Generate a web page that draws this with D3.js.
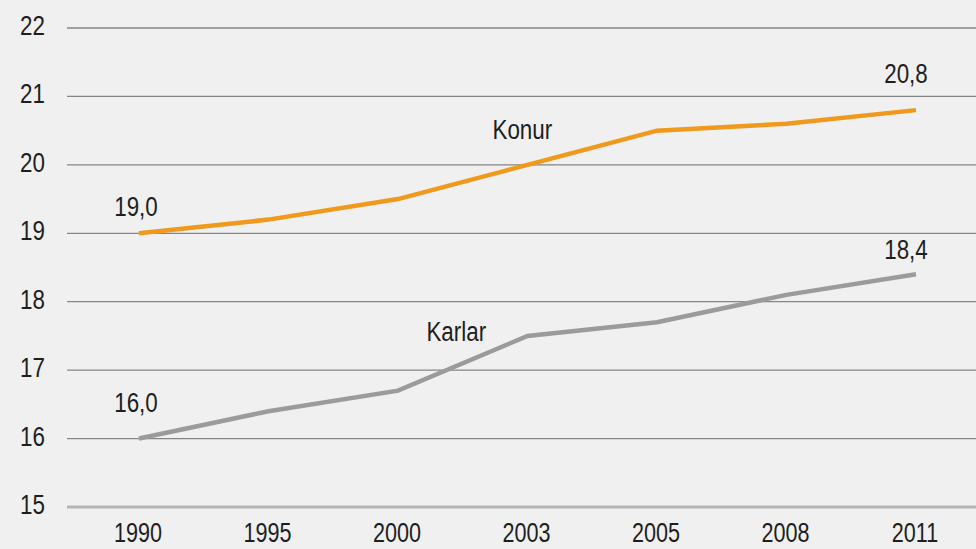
<!DOCTYPE html>
<html>
<head>
<meta charset="utf-8">
<script src="https://cdn.jsdelivr.net/npm/d3@7"></script>
<style>
  body { margin: 0; background: #f0f0f0; }
  svg { display: block; }
  text { font-family: "Liberation Sans", Arial, sans-serif; font-size: 28px; fill: #1e1e1e; }
</style>
</head>
<body>
<svg id="chart"></svg>
<script>
// data
const years = ['1990', '1995', '2000', '2003', '2005', '2008', '2011'];
const konur = [19.0, 19.2, 19.5, 20.0, 20.5, 20.6, 20.8];
const karlar = [16.0, 16.4, 16.7, 17.5, 17.7, 18.1, 18.4];
const yTicks = [15, 16, 17, 18, 19, 20, 21, 22];

const width = 976;
const height = 549;
const squeeze = 0.8; // condensed look

const svg = d3.select('#chart')
    .attr('width', width)
    .attr('height', height);

const x = d3.scalePoint()
    .domain(years)
    .range([139, 916]);

const y = d3.scaleLinear()
    .domain([15, 22])
    .range([507, 28]);

const place = (px, py) => `translate(${px},${py}) scale(${squeeze},1)`;

// gridlines
svg.selectAll('line.grid')
    .data(yTicks)
    .enter()
    .append('line')
    .attr('class', 'grid')
    .attr('x1', 67)
    .attr('x2', width)
    .attr('y1', d => y(d))
    .attr('y2', d => y(d))
    .attr('stroke', d => d === 15 ? '#b4b4b4' : '#858585')
    .attr('stroke-width', d => d === 15 ? 3 : 1.3);

// y labels
svg.selectAll('text.ylab')
    .data(yTicks)
    .enter()
    .append('text')
    .attr('class', 'ylab')
    .attr('transform', d => place(45, y(d) + 7))
    .attr('text-anchor', 'end')
    .text(d => d);

// x labels
svg.selectAll('text.xlab')
    .data(years)
    .enter()
    .append('text')
    .attr('class', 'xlab')
    .attr('transform', d => place(x(d) - 1, 542))
    .attr('text-anchor', 'middle')
    .style('font-size', '27px')
    .text(d => d);

const line = d3.line()
    .x((d, i) => x(years[i]))
    .y(d => y(d));

svg.append('path')
    .datum(karlar)
    .attr('d', line)
    .attr('fill', 'none')
    .attr('stroke', '#9b9b9b')
    .attr('stroke-width', 4.5);

svg.append('path')
    .datum(konur)
    .attr('d', line)
    .attr('fill', 'none')
    .attr('stroke', '#ef991d')
    .attr('stroke-width', 4.5);

// series and value labels
const labels = [
    { text: 'Konur', x: x('2000') + (x('2003') - x('2000')) * 0.96, y: 139 },
    { text: 'Karlar', x: x('2000') + (x('2003') - x('2000')) * 0.45, y: 341 },
    { text: '19,0', x: x('1990') - 3, y: 216 },
    { text: '16,0', x: x('1990') - 3, y: 412 },
    { text: '20,8', x: x('2011') - 10, y: 83 },
    { text: '18,4', x: x('2011') - 10, y: 259 }
];

svg.selectAll('text.lab')
    .data(labels)
    .enter()
    .append('text')
    .attr('class', 'lab')
    .attr('transform', d => place(d.x, d.y))
    .attr('text-anchor', 'middle')
    .text(d => d.text);
</script>
</body>
</html>
